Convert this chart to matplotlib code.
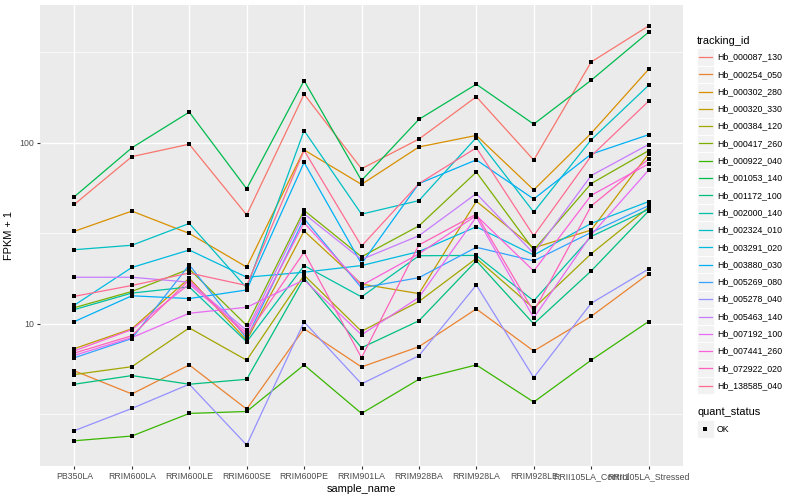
import matplotlib.pyplot as plt
import numpy as np
from matplotlib.lines import Line2D
from matplotlib.patches import Rectangle
from matplotlib.ticker import FixedLocator, NullFormatter

plt.rcParams['font.family'] = ['Liberation Sans', 'DejaVu Sans']

# categories
samples = ['PB350LA', 'RRIM600LA', 'RRIM600LE', 'RRIM600SE', 'RRIM600PE',
           'RRIM901LA', 'RRIM928BA', 'RRIM928LA', 'RRIM928LE',
           'RRII105LA_Control', 'RRII105LA_Stressed']

tracking_ids = ['Hb_000087_130', 'Hb_000254_050', 'Hb_000302_280',
                'Hb_000320_330', 'Hb_000384_120', 'Hb_000417_260',
                'Hb_000922_040', 'Hb_001053_140', 'Hb_001172_100',
                'Hb_002000_140', 'Hb_002324_010', 'Hb_003291_020',
                'Hb_003880_030', 'Hb_005269_080', 'Hb_005278_040',
                'Hb_005463_140', 'Hb_007192_100', 'Hb_007441_260',
                'Hb_072922_020', 'Hb_138585_040']

# FPKM + 1 per sample
hb_000087_130 = [45.8, 84, 98.4, 40, 186, 72, 105, 180, 80.4, 280, 443]
hb_000254_050 = [5.5, 4.1, 5.93, 3.38, 9.4, 5.78, 7.48, 12.1, 7.08, 11.0, 18.9]
hb_000302_280 = [32.5, 42, 31.6, 20.6, 91.5, 59, 95, 110, 55, 113, 255]
hb_000320_330 = [7.3, 9.4, 17.9, 8.1, 32.6, 16.6, 14.7, 47.6, 26.3, 33, 87]
hb_000384_120 = [5.25, 5.8, 9.5, 6.3, 18.6, 9.1, 13.3, 23.0, 12.2, 24.4, 44]
hb_000417_260 = [12.3, 15.1, 20.1, 9.8, 42.4, 23.5, 34.8, 69, 25.6, 59.6, 90.6]
hb_000922_040 = [2.26, 2.40, 3.2, 3.28, 5.93, 3.2, 4.94, 5.93, 3.7, 6.3, 10.3]
hb_001053_140 = [50.5, 94, 148, 55.8, 221, 62, 135, 211, 127, 222, 409]
hb_001172_100 = [4.64, 5.18, 4.64, 4.94, 17.9, 7.38, 10.4, 22.3, 10.0, 19.6, 42]
hb_002000_140 = [12.0, 14.8, 16.0, 7.96, 21.0, 14.1, 23.8, 23.9, 13.4, 30.4, 43]
hb_002324_010 = [25.7, 27.2, 35.9, 15.8, 117, 40.4, 48, 107, 41.5, 104, 208]
hb_003291_020 = [12.7, 20.5, 25.6, 18.1, 19.3, 21.0, 25.1, 34.4, 24.0, 35.9, 47.4]
hb_003880_030 = [10.3, 14.3, 13.8, 15.4, 78, 21.5, 59.6, 80.6, 49, 86.7, 111]
hb_005269_080 = [6.5, 8.3, 21.2, 8.3, 38.2, 15.8, 18.0, 26.5, 22.3, 32, 45]
hb_005278_040 = [2.57, 3.41, 4.64, 2.14, 10.25, 4.66, 6.67, 16.4, 5.05, 13.0, 20.1]
hb_005463_140 = [18.1, 18.1, 17.0, 9.2, 40.6, 22.7, 30.7, 52.5, 24.5, 66, 98]
hb_007192_100 = [6.7, 8.4, 11.45, 12.35, 17.5, 8.7, 14.0, 39.0, 10.8, 31, 70.7]
hb_007441_260 = [7.1, 9.3, 16.6, 8.9, 36.2, 16.3, 24.4, 39.7, 19.6, 51.3, 76.6]
hb_072922_020 = [6.9, 8.6, 17.5, 8.6, 24.9, 6.5, 27.3, 40.4, 11.7, 44.8, 81.4]
hb_138585_040 = [14.2, 16.3, 19.1, 16.3, 91, 26.9, 59.6, 94, 30.7, 84.6, 170]

series = [hb_000087_130, hb_000254_050, hb_000302_280, hb_000320_330,
          hb_000384_120, hb_000417_260, hb_000922_040, hb_001053_140,
          hb_001172_100, hb_002000_140, hb_002324_010, hb_003291_020,
          hb_003880_030, hb_005269_080, hb_005278_040, hb_005463_140,
          hb_007192_100, hb_007441_260, hb_072922_020, hb_138585_040]

# ggplot2 default hue palette for 20 levels
colors = ['#F8766D', '#EA8331', '#D89000', '#C09B00', '#A3A500', '#7CAE00',
          '#39B600', '#00BB4E', '#00BF7D', '#00C1A3', '#00BFC4', '#00BAE0',
          '#00B0F6', '#35A2FF', '#9590FF', '#C77CFF', '#E76BF3', '#FA62DB',
          '#FF62BC', '#FF6C91']

W, H = 800, 500
fig = plt.figure(figsize=(8, 5), dpi=100)
fig.patch.set_facecolor('white')
ax = fig.add_axes([40 / W, 34 / H, 643 / W, 461 / H])
ax.set_facecolor('#EBEBEB')
ax.set_yscale('log')

x = np.arange(len(samples))
for vals, col in zip(series, colors):
    ax.plot(x, vals, color=col, lw=0.9, zorder=2)
for vals in series:
    ax.plot(x, vals, 's', color='black', ms=2.8, mew=0, zorder=3)

# ggplot-like 5% expansion in log space
allv = np.log10(np.concatenate([np.asarray(s, float) for s in series]))
lo, hi = allv.min(), allv.max()
pad = 0.05 * (hi - lo)
ax.set_ylim(10 ** (lo - pad), 10 ** (hi + pad))
ax.set_xlim(-0.6, len(samples) - 1 + 0.6)

ax.set_xticks(x)
ax.set_xticklabels(samples)
ax.yaxis.set_major_locator(FixedLocator([10, 100]))
ax.set_yticklabels(['10', '100'])
ax.yaxis.set_minor_locator(FixedLocator([10 ** 0.5, 10 ** 1.5, 10 ** 2.5]))
ax.yaxis.set_minor_formatter(NullFormatter())

ax.grid(which='major', color='white', lw=1.0, zorder=0)
ax.grid(which='minor', axis='y', color='white', lw=0.5, zorder=0)
ax.set_axisbelow(True)
for sp in ax.spines.values():
    sp.set_visible(False)
ax.tick_params(which='major', length=2.2, width=0.8, color='#333333',
               labelsize=6.3, labelcolor='#4D4D4D', pad=2)
ax.tick_params(which='minor', length=0)

ax.set_xlabel('sample_name', fontsize=7.9, labelpad=2)
ax.set_ylabel('FPKM + 1', fontsize=7.9, labelpad=4)


def fx(px):
    return px / W


def fy(py):
    return 1 - py / H


# legend: tracking_id
fig.text(fx(697), fy(41), 'tracking_id', fontsize=7.9, va='center', ha='left')
step = 17.3
for i, (name, col) in enumerate(zip(tracking_ids, colors)):
    yc = 57 + i * step
    fig.patches.append(Rectangle((fx(697), fy(yc + step / 2)), 17 / W, step / H,
                                 transform=fig.transFigure, facecolor='#F2F2F2',
                                 edgecolor='white', lw=0.6))
    fig.lines.append(Line2D([fx(699), fx(712)], [fy(yc), fy(yc)],
                            transform=fig.transFigure, color=col, lw=0.9))
    fig.text(fx(717), fy(yc), name, fontsize=6.3, va='center', ha='left')

# legend: quant_status
fig.text(fx(697), fy(412), 'quant_status', fontsize=7.9, va='center', ha='left')
fig.patches.append(Rectangle((fx(697), fy(429 + step / 2)), 17 / W, step / H,
                             transform=fig.transFigure, facecolor='#F2F2F2',
                             edgecolor='white', lw=0.6))
fig.lines.append(Line2D([fx(705)], [fy(429)], transform=fig.transFigure,
                        marker='s', color='black', ms=2.8, mew=0, ls='none'))
fig.text(fx(717), fy(429), 'OK', fontsize=6.3, va='center', ha='left')

fig.savefig('out.png', dpi=100)
